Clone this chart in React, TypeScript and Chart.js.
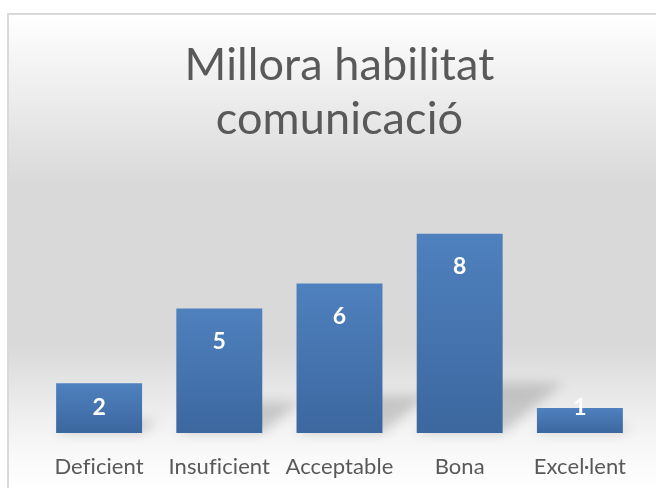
import React, { useEffect, useRef } from "react";
import { Chart, registerables } from "chart.js";

Chart.register(...registerables);

const categories = ["Deficient", "Insuficient", "Acceptable", "Bona", "Excel·lent"];
const values = [2, 5, 6, 8, 1];
const titleLines = ["Millora habilitat", "comunicació"];

const FONT = "Lato, 'Open Sans', sans-serif";

const backgroundPlugin = {
  id: "bgPlugin",
  beforeDraw(chart: any) {
    const { ctx, width, height } = chart;
    ctx.save();
    const g = ctx.createLinearGradient(0, 14, 0, height);
    g.addColorStop(0, "#ffffff");
    g.addColorStop(0.36, "#d9d9d9");
    g.addColorStop(0.7, "#d9d9d9");
    g.addColorStop(0.9, "#f6f6f6");
    g.addColorStop(1, "#ffffff");
    ctx.fillStyle = g;
    ctx.fillRect(8, 14, width, height);
    ctx.strokeStyle = "#d9d9d9";
    ctx.lineWidth = 2;
    ctx.strokeRect(8, 14, width + 10, height + 10);
    ctx.restore();
    // non-zero letter spacing disables the "fi" ligature
    try {
      (ctx as any).letterSpacing = "0.1px";
    } catch (e) {}
  },
};

const shadowPlugin = {
  id: "shadowPlugin",
  beforeDatasetsDraw(chart: any) {
    const { ctx } = chart;
    const meta = chart.getDatasetMeta(0);
    ctx.save();
    ctx.filter = "blur(6px)";
    ctx.fillStyle = "rgba(0,0,0,0.16)";
    meta.data.forEach((el: any) => {
      const h = el.base - el.y;
      const left = el.x - el.width / 2;
      const right = el.x + el.width / 2;
      const sh = h * 0.25;
      const dx = h * 0.3;
      ctx.beginPath();
      ctx.moveTo(left, el.base);
      ctx.lineTo(right, el.base);
      ctx.lineTo(right + dx, el.base - sh);
      ctx.lineTo(left + dx, el.base - sh);
      ctx.closePath();
      ctx.fill();
    });
    ctx.restore();
  },
};

const labelPlugin = {
  id: "labelPlugin",
  afterDatasetsDraw(chart: any) {
    const { ctx } = chart;
    const meta = chart.getDatasetMeta(0);
    ctx.save();
    ctx.fillStyle = "#ffffff";
    ctx.font = `bold 23px ${FONT}`;
    ctx.textAlign = "center";
    ctx.textBaseline = "middle";
    meta.data.forEach((el: any, i: number) => {
      const y = Math.min(el.y + 33, el.base - 25);
      ctx.fillText(String(values[i]), el.x, y);
    });
    ctx.restore();
  },
};

export default function App() {
  const ref = useRef<HTMLCanvasElement | null>(null);
  useEffect(() => {
    document.body.style.margin = "0";
    const canvas = ref.current!;
    const chart = new Chart(canvas, {
      type: "bar",
      data: {
        labels: categories,
        datasets: [
          {
            data: values,
            backgroundColor: (c: any) => {
              const ch = c.chart;
              const ys = ch.scales && ch.scales.y;
              if (!ys || c.raw === undefined) return "#4a7ebb";
              const top = ys.getPixelForValue(c.raw);
              const bot = ys.getPixelForValue(0);
              if (!isFinite(top) || !isFinite(bot) || top === bot) return "#4a7ebb";
              const g = ch.ctx.createLinearGradient(0, top, 0, bot);
              g.addColorStop(0, "#4f81be");
              g.addColorStop(1, "#3c679f");
              return g;
            },
            borderWidth: 0,
            barPercentage: 0.715,
            categoryPercentage: 1,
          },
        ],
      },
      options: {
        animation: false,
        responsive: false,
        layout: { padding: { left: 39, right: 16, top: 0, bottom: 0 } },
        plugins: {
          legend: { display: false },
          tooltip: { enabled: false },
          title: {
            display: true,
            text: titleLines,
            color: "#595959",
            font: { family: FONT, size: 45, weight: "normal", lineHeight: 1.2 },
            padding: { top: 38, bottom: 38 },
          },
        },
        scales: {
          x: {
            grid: { display: false },
            border: { display: false },
            ticks: {
              color: "#595959",
              font: { family: FONT, size: 22 },
              padding: 13,
              maxRotation: 0,
              autoSkip: false,
            },
            afterFit: (scale: any) => {
              scale.height = 55;
            },
          },
          y: {
            display: false,
            min: 0,
            max: 10,
          },
        },
      },
      plugins: [backgroundPlugin, shadowPlugin, labelPlugin],
    });
    return () => chart.destroy();
  }, []);
  return <canvas ref={ref} width={656} height={488} style={{ display: "block" }} />;
}
